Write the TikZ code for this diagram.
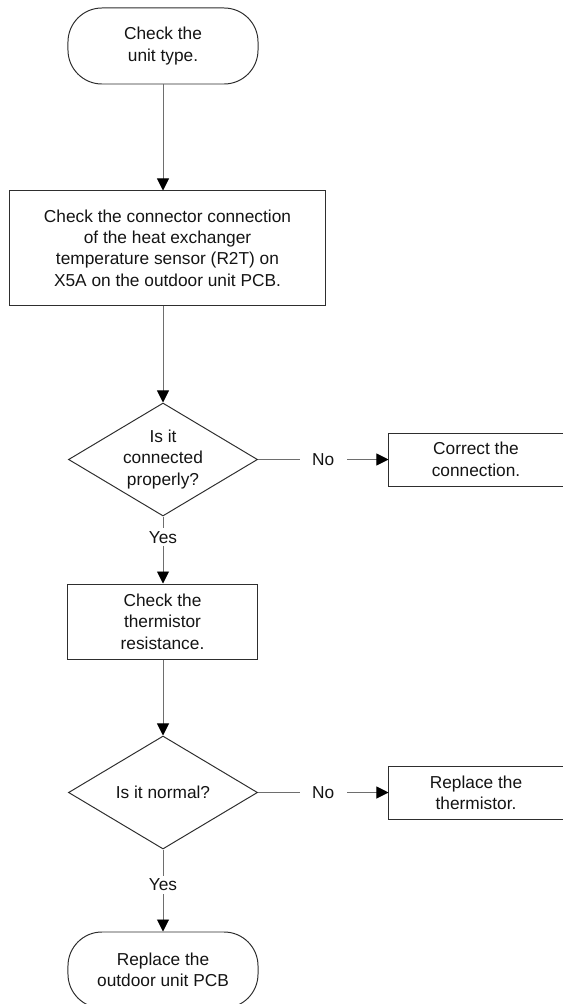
\documentclass[tikz,border=0pt]{standalone}
\usepackage{fontspec}
\setmainfont{Liberation Sans}
\usepackage{tikz}
\usetikzlibrary{arrows.meta, positioning, shapes.geometric}
\definecolor{fline}{HTML}{2E2E2E}
\definecolor{fconn}{HTML}{6E6E6E}
\definecolor{ftext}{HTML}{141414}
\tikzset{
  ftxt/.style={font=\fontsize{12.3}{15.2}\selectfont, text=ftext, align=center},
  termbox/.style={draw=fline, rounded corners=0.85cm, ftxt,
                  minimum width=4.75cm, minimum height=1.9cm, inner sep=0pt},
  procbox/.style={draw=fline, ftxt, inner sep=0pt},
  decbox/.style={draw=fline, diamond, inner sep=0pt, shape aspect=1.67,
                 minimum width=4.725cm, minimum height=2.825cm},
  conn/.style={fconn, line width=0.7pt,
               -{Triangle[length=0.3cm, width=0.3cm, fill=black, color=black]}},
  lbl/.style={ftxt, fill=white, inner sep=2pt},
}
\begin{document}
\begin{tikzpicture}[x=0.025cm, y=-0.025cm, line width=0.7pt]
  \useasboundingbox (0,0) rectangle (563,1004);

  % main column
  \node[termbox] (start) at (163,46) {Check the\\unit type.};
  \node[procbox, minimum width=7.875cm, minimum height=2.85cm] (chkconn) at (167.5,248)
    {Check the connector connection\\of the heat exchanger\\temperature sensor (R2T) on\\X5A on the outdoor unit PCB.};
  \node[decbox, label={[ftxt]center:Is it\\connected\\properly?}] (isconn) at (163,459.5) {};
  \node[procbox, minimum width=4.725cm, minimum height=1.875cm] (chkres) at (162.5,621.5)
    {Check the\\thermistor\\resistance.};
  \node[decbox, label={[ftxt]center:Is it normal?}] (isnorm) at (163,792.5) {};
  \node[termbox] (newpcb) at (163,970) {Replace the\\outdoor unit PCB};

  % right column
  \node[procbox, minimum width=4.35cm, minimum height=1.325cm] (fixconn) at (476,459.5)
    {Correct the\\connection.};
  \node[procbox, minimum width=4.35cm, minimum height=1.325cm] (newtherm) at (476,792.5)
    {Replace the\\thermistor.};

  \draw[conn] (start) -- (chkconn.north -| start);
  \draw[conn] (chkconn.south -| isconn) -- (isconn.north);
  \draw[conn] (isconn.south) -- node[lbl, pos=0.31] {Yes} (chkres.north -| isconn);
  \draw[conn] (chkres.south -| isconn) -- (isnorm.north);
  \draw[conn] (isnorm.south) -- node[lbl, pos=0.43] {Yes} (newpcb.north);

  \draw[conn] (isconn.east) -- node[lbl, inner xsep=9pt] {No} (fixconn.west);
  \draw[conn] (isnorm.east) -- node[lbl, inner xsep=9pt] {No} (newtherm.west);
\end{tikzpicture}
\end{document}
